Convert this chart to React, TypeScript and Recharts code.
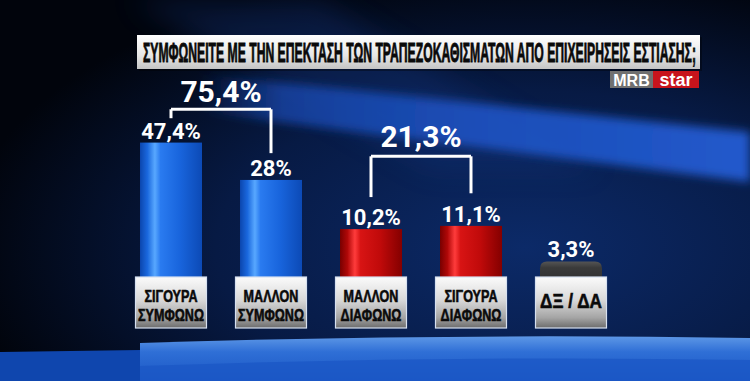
import { useLayoutEffect, useRef, useState } from 'react'
import { BarChart, Bar, XAxis, YAxis, LabelList, ReferenceLine } from 'recharts'

const title = 'ΣΥΜΦΩΝΕΙΤΕ ΜΕ ΤΗΝ ΕΠΕΚΤΑΣΗ ΤΩΝ ΤΡΑΠΕΖΟΚΑΘΙΣΜΑΤΩΝ ΑΠΟ ΕΠΙΧΕΙΡΗΣΕΙΣ ΕΣΤΙΑΣΗΣ;'
const categories = ['ΣΙΓΟΥΡΑ\nΣΥΜΦΩΝΩ', 'ΜΑΛΛΟΝ\nΣΥΜΦΩΝΩ', 'ΜΑΛΛΟΝ\nΔΙΑΦΩΝΩ', 'ΣΙΓΟΥΡΑ\nΔΙΑΦΩΝΩ', 'ΔΞ / ΔΑ']
const values = [47.4, 28, 10.2, 11.1, 3.3]
const groups = ['agree', 'agree', 'disagree', 'disagree', 'unsure']

const data = categories.map((name, i) => ({ name, value: values[i], group: groups[i] }))

const fmt = (v: number) => `${String(v).replace('.', ',')}%`

// bracket placement (y in data units of the sqrt axis)
const brackets = [
  { from: 0, to: 1, top: 69, leftEnd: 62.8, rightEnd: 41.4, offset: 7 },
  { from: 2, to: 3, top: 39.7, leftEnd: 20.8, rightEnd: 22.3, offset: 9 },
]

const barFill: Record<string, string> = {
  agree: 'url(#gBlue)',
  disagree: 'url(#gRed)',
  unsure: 'url(#gDark)',
}

const condensed = "'Liberation Sans', Arial, sans-serif"

function BarShape(props: any) {
  const { x, y, width, height, payload } = props
  if (payload.group === 'unsure') {
    const r = 7
    const d = `M${x},${y + height} L${x},${y + r} Q${x},${y} ${x + r},${y} L${x + width - r},${y} Q${x + width},${y} ${x + width},${y + r} L${x + width},${y + height} Z`
    return <path d={d} fill={barFill.unsure} />
  }
  return <rect x={x} y={y} width={width} height={height} fill={barFill[payload.group]} />
}

function CategoryTick(props: any) {
  const { x, payload } = props
  const lines = String(payload.value).split('\n')
  const w = 71
  const top = 277
  const h = 51
  const single = lines.length === 1
  return (
    <g>
      <rect x={x - w / 2} y={top} width={w} height={h} fill="url(#gBox)" stroke="#d6e0f0" strokeWidth={1.2} />
      <text
        x={0}
        y={single ? 308 : 302}
        transform={`translate(${x},0) scale(${single ? 0.86 : 0.74},1)`}
        textAnchor="middle"
        fontFamily={condensed}
        fontWeight={700}
        fontSize={single ? 20 : 17}
        fill="#0a0a0a"
        stroke="#0a0a0a"
        strokeWidth={0.6}
      >
        {lines.map((l, i) => (
          <tspan key={i} x={0} dy={i === 0 ? 0 : 19}>
            {l}
          </tspan>
        ))}
      </text>
    </g>
  )
}

function Title() {
  const ref = useRef<SVGTextElement>(null)
  const [k, setK] = useState(0.4)
  useLayoutEffect(() => {
    if (ref.current) {
      const len = ref.current.getComputedTextLength()
      if (len > 0) setK(553 / len)
    }
  }, [])
  return (
    <text
      ref={ref}
      x={0}
      y={62}
      transform={`translate(143,0) scale(${k},1)`}
      fontFamily={condensed}
      fontWeight={700}
      fontSize={28}
      fill="#0a0a0a"
      stroke="#0a0a0a"
      strokeWidth={0.9}
    >
      {title}
    </text>
  )
}

function Background() {
  return (
    <svg width={750} height={381} style={{ position: 'absolute', left: 0, top: 0 }}>
      <defs>
        <radialGradient id="gBg" cx="0.7" cy="0.65" r="0.75">
          <stop offset="0" stopColor="#0c2a68" />
          <stop offset="0.55" stopColor="#071a44" />
          <stop offset="1" stopColor="#01040c" />
        </radialGradient>
        <linearGradient id="gStreak" x1="0" y1="0" x2="1" y2="0">
          <stop offset="0" stopColor="#1a4cb8" stopOpacity="0" />
          <stop offset="0.15" stopColor="#1a4cb8" stopOpacity="0.7" />
          <stop offset="0.5" stopColor="#1d52c2" stopOpacity="0.9" />
          <stop offset="1" stopColor="#2159cc" stopOpacity="1" />
        </linearGradient>
        <linearGradient id="gFloor" x1="0" y1="0" x2="0" y2="1">
          <stop offset="0" stopColor="#5d97e6" />
          <stop offset="0.35" stopColor="#2f6fd6" />
          <stop offset="1" stopColor="#1a56c4" />
        </linearGradient>
        <linearGradient id="gBlue" x1="0" y1="0" x2="1" y2="0">
          <stop offset="0" stopColor="#0b46ae" />
          <stop offset="0.12" stopColor="#1a68de" />
          <stop offset="0.24" stopColor="#58a8ff" />
          <stop offset="0.33" stopColor="#2a7bf0" />
          <stop offset="0.65" stopColor="#1864dc" />
          <stop offset="1" stopColor="#0c4ab6" />
        </linearGradient>
        <linearGradient id="gRed" x1="0" y1="0" x2="1" y2="0">
          <stop offset="0" stopColor="#780000" />
          <stop offset="0.12" stopColor="#b00808" />
          <stop offset="0.24" stopColor="#ff3c3c" />
          <stop offset="0.33" stopColor="#d81414" />
          <stop offset="0.65" stopColor="#c00a0a" />
          <stop offset="1" stopColor="#840000" />
        </linearGradient>
        <linearGradient id="gDark" x1="0" y1="0" x2="0" y2="1">
          <stop offset="0" stopColor="#555555" />
          <stop offset="0.15" stopColor="#3a3a3a" />
          <stop offset="1" stopColor="#202020" />
        </linearGradient>
        <linearGradient id="gBox" x1="0" y1="0" x2="0" y2="1">
          <stop offset="0" stopColor="#fbfbfb" />
          <stop offset="0.45" stopColor="#d9d9d9" />
          <stop offset="0.8" stopColor="#a4a4a4" />
          <stop offset="1" stopColor="#6c6c6c" />
        </linearGradient>
        <linearGradient id="gTitle" x1="0" y1="0" x2="0" y2="1">
          <stop offset="0" stopColor="#ffffff" />
          <stop offset="0.6" stopColor="#e6e6e6" />
          <stop offset="1" stopColor="#c4c4c4" />
        </linearGradient>
        <filter id="fBlur" x="-10%" y="-50%" width="120%" height="200%">
          <feGaussianBlur stdDeviation="5" />
        </filter>
        <filter id="fBlur2" x="-10%" y="-50%" width="120%" height="200%">
          <feGaussianBlur stdDeviation="14" />
        </filter>
      </defs>
      <rect width={750} height={381} fill="url(#gBg)" />
      <polygon points="130,0 320,0 600,170 430,170" fill="#123a8a" opacity={0.3} filter="url(#fBlur2)" />
      <polygon points="200,74 750,132 750,182 200,112" fill="url(#gStreak)" filter="url(#fBlur)" />
      <polygon points="0,352 140,350 140,381 0,381" fill="#0f46ae" />
      <path d="M140,343 Q450,333 750,338 L750,381 L140,381 Z" fill="url(#gFloor)" />
      <path d="M140,366 Q450,355 750,360 L750,381 L140,381 Z" fill="#1b58c6" opacity={0.8} />
      <rect x={137} y={35} width={563} height={34} fill="#000" opacity={0.35} transform="translate(2,2)" />
      <rect x={137} y={35} width={563} height={34} fill="url(#gTitle)" />
      <Title />
      <rect x={610} y={71} width={43} height={17} fill="#707070" />
      <rect x={653} y={71} width={46} height={17} fill="#c8141c" />
      <text x={631.5} y={85.5} textAnchor="middle" fontFamily={condensed} fontWeight={700} fontSize={16} fill="#fff">
        MRB
      </text>
      <text x={676} y={85.5} textAnchor="middle" fontFamily={condensed} fontWeight={700} fontSize={18} fill="#fff">
        star
      </text>
    </svg>
  )
}

export default function App() {
  const labelFont = { fill: '#ffffff', fontFamily: 'Roboto, sans-serif', fontWeight: 700 }
  return (
    <div style={{ position: 'absolute', left: 0, top: 0, width: 750, height: 381, overflow: 'hidden' }}>
      <Background />
      <div style={{ position: 'absolute', left: 0, top: 0 }}>
        <BarChart width={750} height={381} data={data} margin={{ top: 93, right: 129, bottom: 76, left: 121 }}>
          <YAxis hide type="number" scale="sqrt" domain={[0, 81]} allowDataOverflow />
          <Bar dataKey="value" barSize={62} shape={BarShape} isAnimationActive={false}>
            <LabelList
              dataKey="value"
              position="top"
              offset={4}
              formatter={(v: any) => fmt(Number(v))}
              fontSize={22}
              {...labelFont}
            />
          </Bar>
          {brackets.map((b, i) => {
            const total = Number((values[b.from] + values[b.to]).toFixed(1))
            const a = categories[b.from]
            const c = categories[b.to]
            return [
              <ReferenceLine key={`l${i}`} segment={[{ x: a, y: b.leftEnd }, { x: a, y: b.top }]} stroke="#fff" strokeWidth={3} />,
              <ReferenceLine
                key={`t${i}`}
                segment={[{ x: a, y: b.top }, { x: c, y: b.top }]}
                stroke="#fff"
                strokeWidth={3}
                label={{ value: fmt(total), position: 'top', offset: b.offset, fontSize: 30, ...labelFont }}
              />,
              <ReferenceLine key={`r${i}`} segment={[{ x: c, y: b.top }, { x: c, y: b.rightEnd }]} stroke="#fff" strokeWidth={3} />,
            ]
          })}
          <XAxis dataKey="name" axisLine={false} tickLine={false} height={1} interval={0} tick={<CategoryTick />} />
        </BarChart>
      </div>
    </div>
  )
}
